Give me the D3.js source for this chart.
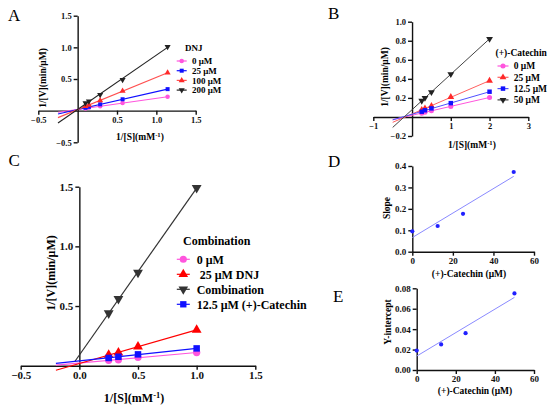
<!DOCTYPE html>
<html>
<head>
<meta charset="utf-8">
<script src="https://cdn.jsdelivr.net/npm/d3@7"></script>
<style>
  body { margin: 0; background: #fff; }
  svg text { font-family: "Liberation Serif", "Times New Roman", serif; }
</style>
</head>
<body>
<div id="chart"></div>
<script>
// Lineweaver-Burk plots (A, B, C) and secondary plots (D, E)

// Panel A: DNJ
const aX = [0.1, 0.143, 0.286, 0.571, 1.143];
const aNames = ["0 μM", "25 μM", "100 μM", "200 μM"];
const aY0 = [0.035, 0.045, 0.07, 0.12, 0.22];
const aY25 = [0.045, 0.06, 0.10, 0.18, 0.34];
const aY100 = [0.07, 0.09, 0.16, 0.31, 0.60];
const aY200 = [0.12, 0.15, 0.25, 0.49, 1.01];
const aXTicks = [-0.5, 0.5, 1.0, 1.5];
const aYTicks = [-0.5, 0.5, 1.0, 1.5];

// Panel B: (+)-Catechin
const bX = [0.25, 0.333, 0.5, 1, 2];
const bNames = ["0 μM", "25 μM", "12.5 μM", "50 μM"];
const bY0 = [0.04, 0.05, 0.065, 0.11, 0.205];
const bY25 = [0.075, 0.09, 0.115, 0.21, 0.38];
const bY125 = [0.055, 0.07, 0.09, 0.145, 0.265];
const bY50 = [0.17, 0.20, 0.26, 0.45, 0.82];
const bXTicks = [-1, 1, 2, 3];
const bYTicks = [-0.2, 0.2, 0.4, 0.6, 0.8, 1.0];

// Panel C: Combination
const cX = [0.25, 0.333, 0.5, 1];
const cNames = ["0 μM", " 25 μM DNJ", "Combination", "12.5 μM (+)-Catechin"];
const cY0 = [0.045, 0.05, 0.07, 0.11];
const cYDnj = [0.09, 0.11, 0.16, 0.30];
const cYComb = [0.44, 0.56, 0.78, 1.49];
const cYCat = [0.065, 0.075, 0.095, 0.145];
const cXTicks = [-0.5, 0.0, 0.5, 1.0, 1.5];
const cYTicks = [0.5, 1.0, 1.5];

// Panels D and E: replots against (+)-Catechin concentration
const catConc = [0, 12.5, 25, 50];
const slopes = [0.095, 0.12, 0.177, 0.372];
const intercepts = [0.019, 0.025, 0.036, 0.075];
const concTicks = [0, 20, 40, 60];
const slopeTicks = [0.0, 0.1, 0.2, 0.3, 0.4];
const interceptTicks = [0.00, 0.02, 0.04, 0.06, 0.08];

const pink = "#ff55dd", red = "#ff2a2a", blue = "#1010ff", black = "#222";
const circle = d3.symbolCircle, tri = d3.symbolTriangle, square = d3.symbolSquare, down = "down";

const svg = d3.select("#chart").append("svg")
    .attr("width", 550)
    .attr("height", 410);

function fit(xs, ys) {
    const mx = d3.mean(xs), my = d3.mean(ys);
    const sxy = d3.sum(xs, (v, i) => (v - mx) * (ys[i] - my));
    const sxx = d3.sum(xs, v => (v - mx) * (v - mx));
    const b = sxy / sxx;
    return {b: b, a: my - b * mx};
}

function marker(sel, type, size, color) {
    const t = type === down ? tri : type;
    sel.append("path")
        .attr("d", d3.symbol().type(t).size(size)())
        .attr("transform", type === down ? "rotate(180)" : null)
        .attr("fill", color);
}

function panel(p) {
    const x = d3.scaleLinear().domain(p.xDomain).range(p.xRange);
    const y = d3.scaleLinear().domain(p.yDomain).range(p.yRange);
    const g = svg.append("g");

    // axes cross at the origin
    const xa = g.append("g")
        .attr("transform", `translate(0,${y(0)})`)
        .call(d3.axisBottom(x).tickValues(p.xTicks).tickSize(4).tickSizeOuter(0)
            .tickPadding(2).tickFormat(p.xFmt));
    const ya = g.append("g")
        .attr("transform", `translate(${x(0)},0)`)
        .call(d3.axisLeft(y).tickValues(p.yTicks).tickSize(4).tickSizeOuter(0)
            .tickPadding(2).tickFormat(p.yFmt));
    [xa, ya].forEach(a => {
        a.selectAll("path, line").attr("stroke", "#111").attr("stroke-width", 1.4);
        a.selectAll("text").attr("font-size", p.tickFont).attr("font-weight", "bold")
            .attr("font-family", "Liberation Serif, serif").attr("fill", "#111");
    });

    // regression lines and points
    p.series.forEach(s => {
        const f = fit(p.xs, s.ys);
        const x0 = s.from !== undefined ? s.from : p.lineFrom;
        const x1 = d3.max(p.xs);
        g.append("line")
            .attr("x1", x(x0)).attr("y1", y(f.a + f.b * x0))
            .attr("x2", x(x1)).attr("y2", y(f.a + f.b * x1))
            .attr("stroke", s.line || s.color)
            .attr("stroke-width", p.lineWidth || 1.2);
        p.xs.forEach((v, i) => {
            const m = g.append("g").attr("transform", `translate(${x(v)},${y(s.ys[i])})`);
            marker(m, s.type, p.markSize, s.color);
        });
    });

    // axis titles
    g.append("text")
        .attr("transform", `translate(${p.yLabelPos[0]},${p.yLabelPos[1]}) rotate(-90)`)
        .attr("text-anchor", "middle")
        .attr("font-size", p.labelFont).attr("font-weight", "bold")
        .text(p.yLabel);
    const xl = g.append("text")
        .attr("x", p.xLabelPos[0]).attr("y", p.xLabelPos[1])
        .attr("text-anchor", "middle")
        .attr("font-size", p.labelFont).attr("font-weight", "bold");
    xl.append("tspan").text(p.xLabel);
    if (p.xSup) {
        xl.append("tspan").attr("dy", -p.labelFont * 0.35).attr("font-size", p.labelFont * 0.7).text(p.xSup);
        xl.append("tspan").attr("dy", p.labelFont * 0.35).text(")");
    }

    // legend
    if (p.legend) {
        const L = p.legend;
        g.append("text")
            .attr("x", L.titleX).attr("y", L.titleY)
            .attr("font-size", L.font).attr("font-weight", "bold")
            .text(L.title);
        p.series.forEach((s, i) => {
            const ly = L.y0 + i * L.step;
            g.append("line")
                .attr("x1", L.mx - L.mw / 2).attr("x2", L.mx + L.mw / 2)
                .attr("y1", ly).attr("y2", ly)
                .attr("stroke", s.line || s.color).attr("stroke-width", 1.2);
            const m = g.append("g").attr("transform", `translate(${L.mx},${ly})`);
            marker(m, s.type, L.markSize, s.color);
            g.append("text")
                .attr("x", L.tx).attr("y", ly)
                .attr("dy", "0.35em")
                .attr("font-size", L.font).attr("font-weight", "bold")
                .style("white-space", "pre")
                .text(s.name);
        });
    }
}

const f1 = d3.format(".1f");

panel({
    xs: aX, xDomain: [-0.5, 1.5], xRange: [38.3, 195.7],
    yDomain: [-0.5, 1.5], yRange: [142.3, 15.7],
    xTicks: aXTicks, yTicks: aYTicks, xFmt: f1, yFmt: f1, tickFont: 8.5,
    lineFrom: -0.25, markSize: 16, lineWidth: 1.1,
    series: [
        {name: aNames[0], ys: aY0, color: pink, type: circle},
        {name: aNames[1], ys: aY25, color: blue, type: square},
        {name: aNames[2], ys: aY100, color: red, line: "#ff5050", type: tri},
        {name: aNames[3], ys: aY200, color: black, type: down}
    ],
    yLabel: "1/[V](min/μM)", yLabelPos: [46, 78],
    xLabel: "1/[S](mM", xSup: "-1", xLabelPos: [140, 140], labelFont: 9.5,
    legend: {title: "DNJ", titleX: 185, titleY: 50.5, y0: 61, step: 9.7,
        mx: 181.7, mw: 10, tx: 192, font: 9, markSize: 16}
});

panel({
    xs: bX, xDomain: [-1, 3], xRange: [373.3, 528.3],
    yDomain: [-0.2, 1.0], yRange: [136, 21.7],
    xTicks: bXTicks, yTicks: bYTicks, xFmt: d3.format("d"), yFmt: f1, tickFont: 8.5,
    lineFrom: -0.5, markSize: 20, lineWidth: 1,
    series: [
        {name: bNames[0], ys: bY0, color: pink, type: circle},
        {name: bNames[1], ys: bY25, color: red, line: "#ff6060", type: tri},
        {name: bNames[2], ys: bY125, color: blue, line: "#5050ff", type: square},
        {name: bNames[3], ys: bY50, color: black, line: "#444", type: down}
    ],
    yLabel: "1/[V](min/μM)", yLabelPos: [388, 77],
    xLabel: "1/[S](mM", xSup: "-1", xLabelPos: [472, 148], labelFont: 9.5,
    legend: {title: "(+)-Catechin", titleX: 495.5, titleY: 55.5, y0: 66, step: 11.3,
        mx: 503, mw: 11, tx: 513.7, font: 9.5, markSize: 20}
});

panel({
    xs: cX, xDomain: [-0.5, 1.5], xRange: [20.7, 255.3],
    yDomain: [0, 1.5], yRange: [365.7, 186.7],
    xTicks: cXTicks, yTicks: cYTicks, xFmt: f1, yFmt: f1, tickFont: 11,
    lineFrom: -0.2, markSize: 42, lineWidth: 1.2,
    series: [
        {name: cNames[0], ys: cY0, color: pink, type: circle},
        {name: cNames[1], ys: cYDnj, color: "#ff0000", type: tri},
        {name: cNames[2], ys: cYComb, color: "#333", type: down, from: -0.04},
        {name: cNames[3], ys: cYCat, color: blue, type: square}
    ],
    yLabel: "1/[V](min/μM)", yLabelPos: [55, 273],
    xLabel: "1/[S](mM", xSup: "-1", xLabelPos: [134, 402], labelFont: 12,
    legend: {title: "Combination", titleX: 183, titleY: 245, y0: 259.3, step: 15,
        mx: 183.3, mw: 13, tx: 196.7, font: 12, markSize: 40}
});

panel({
    xs: catConc, xDomain: [0, 60], xRange: [412.3, 534],
    yDomain: [0, 0.4], yRange: [251.7, 166],
    xTicks: concTicks, yTicks: slopeTicks, xFmt: d3.format("d"), yFmt: f1, tickFont: 9,
    lineFrom: 0, markSize: 14, lineWidth: 1,
    series: [{name: "Slope", ys: slopes, color: "#2020ff", line: "#8a8aff", type: circle}],
    yLabel: "Slope", yLabelPos: [390, 208],
    xLabel: "(+)-Catechin (μM)", xLabelPos: [469, 277], labelFont: 9.5
});

panel({
    xs: catConc, xDomain: [0, 60], xRange: [416.7, 534],
    yDomain: [0, 0.08], yRange: [370, 288.3],
    xTicks: concTicks, yTicks: interceptTicks, xFmt: d3.format("d"), yFmt: d3.format(".2f"), tickFont: 9,
    lineFrom: 0, markSize: 14, lineWidth: 1,
    series: [{name: "Y-intercept", ys: intercepts, color: "#2020ff", line: "#8a8aff", type: circle}],
    yLabel: "Y-intercept", yLabelPos: [391, 322],
    xLabel: "(+)-Catechin (μM)", xLabelPos: [475, 394], labelFont: 9.5
});

// panel letters
const letters = ["A", "B", "C", "D", "E"];
const letterX = [8, 328, 8.5, 328, 333];
const letterY = [20.5, 18.5, 166, 167, 302];
svg.selectAll("text.letter")
    .data(letters)
    .enter()
    .append("text")
    .attr("class", "letter")
    .attr("x", (d, i) => letterX[i])
    .attr("y", (d, i) => letterY[i])
    .attr("font-size", 17)
    .text(d => d);
</script>
</body>
</html>
